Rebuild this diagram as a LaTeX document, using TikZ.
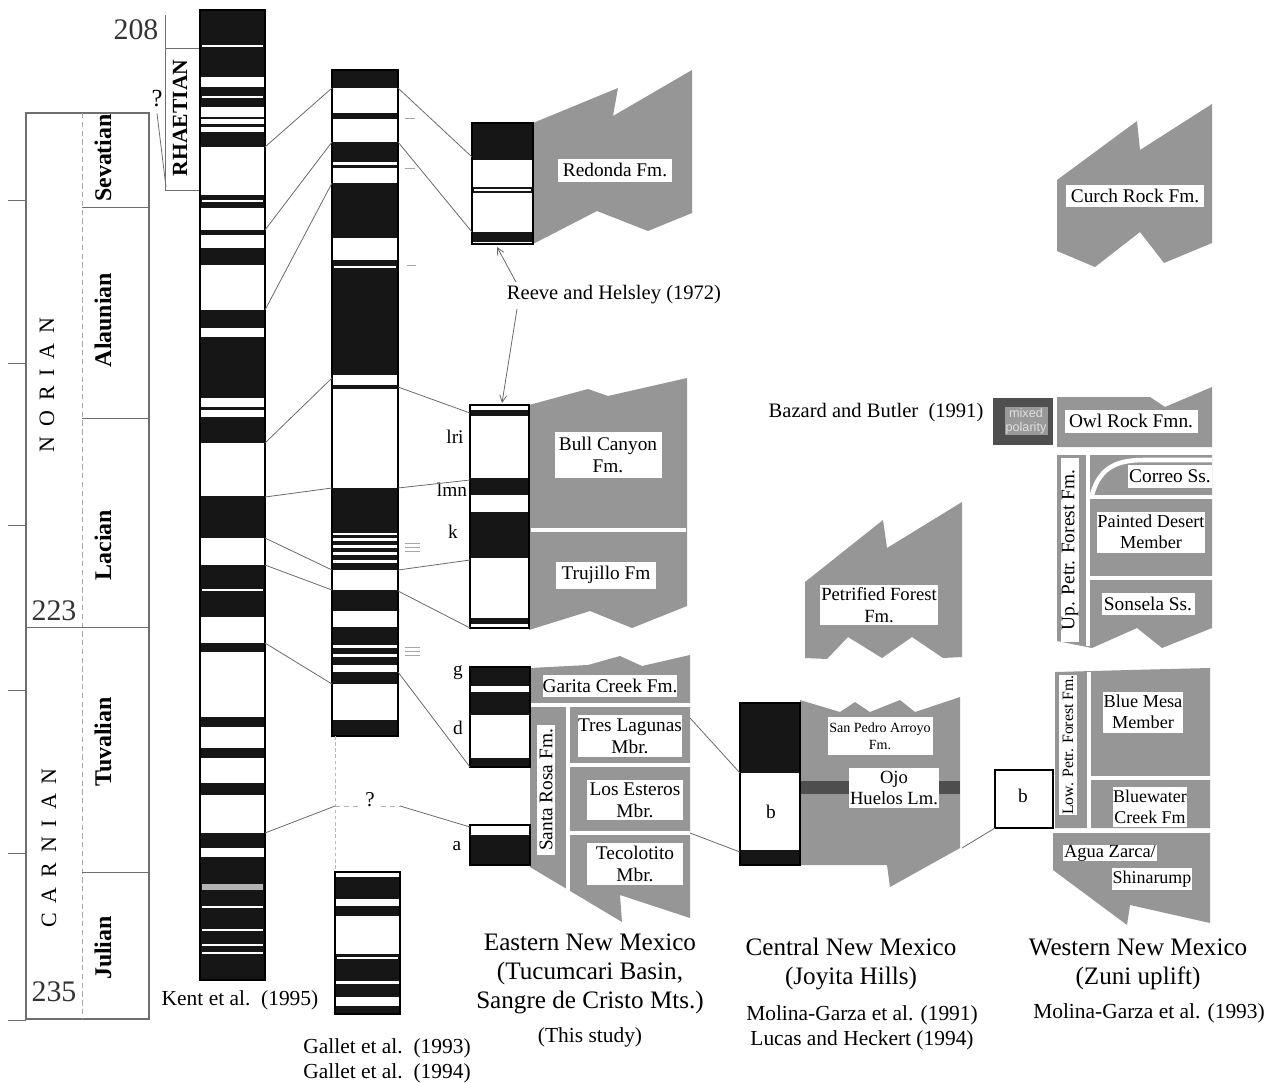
\documentclass[tikz,border=0pt]{standalone}
\usepackage{fontspec}
\setmainfont{Liberation Serif}
\newfontfamily\sansfam{Liberation Sans}
\usetikzlibrary{arrows.meta}
\definecolor{fmgray}{RGB}{150,150,150}
\definecolor{band}{RGB}{22,22,22}
\definecolor{connc}{RGB}{105,105,105}
\definecolor{ojoc}{RGB}{78,78,78}
\definecolor{scalec}{RGB}{110,110,110}
\newcommand\lsp{\hspace{0.45em}}
\begin{document}
\begin{tikzpicture}[x=0.02cm,y=-0.02cm,
  conn/.style={draw=connc,line width=0.45pt},
  fm/.style={fill=fmgray},
  wl/.style={draw=white,line width=2.6pt},
  lab/.style 2 args={fill=white,inner sep=0pt,minimum width=#1*0.02cm,minimum height=#2*0.02cm,align=center,font=\fontsize{11}{12.6}\selectfont},
  captxt/.style={font=\fontsize{14.3}{16.4}\selectfont,align=center},
  cite/.style={font=\fontsize{12.2}{14}\selectfont,align=center},
  stage/.style={rotate=90,font=\bfseries\fontsize{13.6}{15}\selectfont},
  era/.style={rotate=90,font=\fontsize{12.5}{14}\selectfont},
  agen/.style={font=\fontsize{17}{18}\selectfont,text=black!80},
  lettr/.style={font=\fontsize{11}{12}\selectfont},
  colb/.style={draw=black,line width=0.6pt,fill=white},
  bandw/.style={draw=white,line width=0.6pt},
  ]
\useasboundingbox (0,0) rectangle (1274,1082);
\fill[white] (0,0) rectangle (1274,1082);

% ---------------- time scale ----------------
\draw[scalec,line width=0.6pt] (26,113) rectangle (149,1019);
\draw[scalec!60,line width=0.4pt,dash pattern=on 3pt off 2pt] (82,113) -- (82,1019);
\draw[scalec,line width=0.5pt] (82,207) -- (149,207) (82,418) -- (149,418) (26,627) -- (149,627) (82,872) -- (149,872);
\foreach \y in {200,363,525,690,853,1020} \draw[scalec,line width=0.5pt] (8,\y) -- (26,\y);
\node[stage] (sev) at (103,158) {Sevatian};
\node[stage] (ala) at (103,320) {Alaunian};
\node[stage] (lac) at (103,545) {Lacian};
\node[stage] (tuv) at (103,742) {Tuvalian};
\node[stage] (jul) at (103,948) {Julian};
\node[era] (nor) at (47,385) {N\lsp O\lsp R\lsp I\lsp A\lsp N};
\node[era] (car) at (49,848) {C\lsp A\lsp R\lsp N\lsp I\lsp A\lsp N};
\node[agen] (a208) at (136,30) {208};
\node[agen] (a223) at (54,611) {223};
\node[agen] (a235) at (54,992) {235};
\draw[scalec,line width=0.5pt] (165,15) -- (165,190) -- (200,190) (165,48) -- (200,48);
\node[rotate=90,font=\bfseries\fontsize{12.3}{14}\selectfont] (rhaet) at (180,118) {RHAETIAN};
\node[font=\fontsize{14}{15}\selectfont] (q1) at (157,99) {?};
\coordinate (q1end) at (166,187);
\draw[scalec,line width=0.45pt] (q1.south) -- (q1end);

% ---------------- Kent column ----------------
\draw[colb] (200,10) rectangle (265,980);
\foreach \a/\b in {10/77,87/107,117/119,124/127,132/147,195/208,230/235,248/265,310/328,337/398,407/410,417/443,496/538,565/617,643/652,717/727,748/758,783/795,833/848,857/980}
  \fill[band] (200,\a) rectangle (265,\b);
\foreach \y in {46,97,201,590,907,930,945,953} \draw[bandw] (202,\y) -- (263,\y);
\fill[gray!60] (202,884) rectangle (263,890);
\draw[black,line width=0.6pt] (200,10) rectangle (265,980);
\node[cite] (kent) at (240,1000) {Kent et al.\ \ (1995)};

% ---------------- Gallet column ----------------
\draw[colb] (332,70) rectangle (398,736);
\foreach \a/\b in {70/88,113/119,142/162,165/168,183/238,260/375,385/389,488/533,535/538,541/545,548/552,555/560,563/570,590/611,627/645,648/654,657/665,672/684,720/736}
  \fill[band] (332,\a) rectangle (398,\b);
\draw[bandw] (334,267) -- (396,267);
\draw[black,line width=0.6pt] (332,70) rectangle (398,736);
\draw[gray!55,line width=0.4pt,dash pattern=on 2pt off 1.5pt] (335,736) -- (335,872);
\node[font=\fontsize{12}{13}\selectfont] (gq) at (370,800) {?};
\draw[gray!60,line width=0.4pt,dash pattern=on 3pt off 2pt] (335,806) -- (360,806) (381,806) -- (400,806);
\draw[colb] (335,872) rectangle (400,1014);
\foreach \a/\b in {877/899,906/916,954/981,984/997,1006/1014}
  \fill[band] (335,\a) rectangle (400,\b);
\draw[bandw] (337,958) -- (398,958);
\draw[black,line width=0.6pt] (335,872) rectangle (400,1014);
\draw[gray!70,line width=0.4pt] (405,118) -- (415,118) (405,168) -- (415,168) (407,265) -- (416,265);
\foreach \y in {543,547,551,647,651,655} \draw[gray!70,line width=0.4pt] (405,\y) -- (420,\y);
\node[cite] (gallet) at (387,1061) {Gallet et al.\ \ (1993)\\Gallet et al.\ \ (1994)};

% Kent -> Gallet connectors
\foreach \i/\ya/\yb in {1/147/88,2/230/142,3/310/183,4/443/378,5/497/488,6/538/570,7/565/590,8/643/684}{
  \coordinate (k\i) at (265,\ya); \coordinate (g\i) at (332,\yb);
  \draw[conn] (k\i) -- (g\i);}
\coordinate (k9) at (265,833); \coordinate (g9) at (335,806);
\draw[conn] (k9) -- (g9);

% ---------------- Eastern New Mexico ----------------
% Redonda
\fill[fm] (533,123) -- (618,88) -- (613,116) -- (692,70) -- (692,213) -- (648,231) -- (597,211) -- (533,244) -- cycle;
\node[lab={114}{23}] (redonda) at (615,170) {Redonda Fm.};
% Bull Canyon / Trujillo
\fill[fm] (529,405) -- (588,389) -- (608,396) -- (687,378) -- (687,606) -- (632,628) -- (590,611) -- (529,630) -- cycle;
\draw[wl] (531,530) -- (686,530);
\node[lab={107}{46}] (bull) at (608,455) {Bull Canyon\\Fm.};
\node[lab={100}{27}] (truj) at (606,575) {Trujillo Fm};
% lower Eastern
\fill[fm] (530,668) -- (588,665) -- (620,656) -- (642,666) -- (690,655) -- (690,918) -- (620,895) -- (622,922) -- (530,867) -- cycle;
\draw[wl] (530,705) -- (691,705);
\draw[wl] (568,705) -- (568,893);
\draw[wl] (568,765) -- (691,765);
\draw[wl] (568,833) -- (691,833);
\node[lab={126}{22}] (garita) at (610,686) {Garita Creek Fm.};
\node[lab={130}{18},rotate=90,font=\fontsize{11}{12}\selectfont] (srosa) at (546,790) {Santa Rosa Fm.};
\node[lab={104}{42}] (tres) at (630,736) {Tres Lagunas\\Mbr.};
\node[lab={96}{40}] (este) at (635,800) {Los Esteros\\Mbr.};
\node[lab={96}{42}] (teco) at (635,864) {Tecolotito\\Mbr.};
% Eastern polarity columns
\draw[colb] (472,123) rectangle (533,244);
\foreach \a/\b in {123/160,187/193,232/242} \fill[band] (472,\a) rectangle (533,\b);
\draw[bandw] (474,190) -- (531,190);
\draw[black,line width=0.6pt] (472,123) rectangle (533,244);
\draw[colb] (470,405) rectangle (529,628);
\foreach \a/\b in {410/416,478/495,512/558,618/624} \fill[band] (470,\a) rectangle (529,\b);
\draw[black,line width=0.6pt] (470,405) rectangle (529,628);
\draw[colb] (470,667) rectangle (530,767);
\foreach \a/\b in {667/686,692/715,758/767} \fill[band] (470,\a) rectangle (530,\b);
\draw[black,line width=0.6pt] (470,667) rectangle (530,767);
\draw[colb] (470,825) rectangle (530,865);
\fill[band] (470,835) rectangle (530,865);
\draw[black,line width=0.6pt] (470,825) rectangle (530,865);
\node[lettr] (llri) at (455,437) {lri};
\node[lettr] (llmn) at (452,490) {lmn};
\node[lettr] (lk) at (453,532) {k};
\node[lettr] (lg) at (458,673) {g};
\node[lettr] (ld) at (458,728) {d};
\node[lettr] (la) at (457,846) {a};
% Reeve and Helsley
\node[cite,font=\fontsize{11.7}{13}\selectfont] (reeve) at (614,295) {Reeve and Helsley (1972)};
\coordinate (rhA) at (516,282); \coordinate (redB) at (497,247);
\coordinate (rhB) at (517,309); \coordinate (bullT) at (502,403);
\draw[conn,-{Straight Barb[length=4pt,width=4pt]}] (rhA) -- (redB);
\draw[conn,-{Straight Barb[length=4pt,width=4pt]}] (rhB) -- (bullT);
\node[captxt] (eastcap) at (590,974) {Eastern New Mexico\\(Tucumcari Basin,\\Sangre de Cristo Mts.)};
\node[cite] (thisst) at (590,1037) {(This study)};

% Gallet -> Eastern connectors
\foreach \i/\ya/\xb/\yb in {1/88/472/157,2/142/472/232,3/387/470/413,4/488/470/480,5/570/470/560,6/591/470/628,7/672/470/767}{
  \coordinate (gr\i) at (398,\ya); \coordinate (e\i) at (\xb,\yb);
  \draw[conn] (gr\i) -- (e\i);}
\coordinate (gr8) at (400,806); \coordinate (e8) at (470,827);
\draw[conn] (gr8) -- (e8);

% ---------------- Central New Mexico ----------------
\node[cite,font=\fontsize{11.7}{13}\selectfont] (bazard) at (876,413) {Bazard and Butler\ \ (1991)};
\fill[fm] (805,582) -- (883,520) -- (887,548) -- (962,502) -- (962,657) -- (943,658) -- (912,637) -- (882,658) -- (848,637) -- (827,659) -- (805,658) -- cycle;
\node[lab={118}{40},font=\fontsize{10.6}{12.6}\selectfont] (pff) at (879,605) {Petrified Forest\\Fm.};
\fill[fm] (800,700) -- (840,712) -- (855,702) -- (870,712) -- (900,700) -- (915,712) -- (960,697) -- (960,848) -- (890,887) -- (887,865) -- (800,865) -- cycle;
\fill[ojoc] (800,781) rectangle (960,794);
\node[lab={105}{38},font=\fontsize{8}{9.5}\selectfont] (spa) at (880,736) {San Pedro Arroyo\\Fm.};
\node[lab={90}{40},font=\fontsize{10.6}{12.4}\selectfont] (ojo) at (894,788) {Ojo\\Huelos Lm.};
\draw[colb] (740,703) rectangle (800,865);
\fill[band] (740,703) rectangle (800,773);
\fill[band] (740,850) rectangle (800,865);
\draw[black,line width=0.6pt] (740,703) rectangle (800,865);
\node[lettr] (cb) at (771,812) {b};
\coordinate (eR1) at (690,718); \coordinate (c1) at (740,773);
\coordinate (eR2) at (690,833); \coordinate (c2) at (740,852);
\draw[conn] (eR1) -- (c1);
\draw[conn] (eR2) -- (c2);
\node[captxt] (centcap) at (851,964) {Central New Mexico\\(Joyita Hills)};
\node[cite] (centcit) at (862,1028) {Molina-Garza et al. (1991)\\Lucas and Heckert (1994)};

% ---------------- Western New Mexico ----------------
\fill[fm] (1057,180) -- (1137,121) -- (1140,150) -- (1212,104) -- (1212,243) -- (1164,263) -- (1140,232) -- (1095,267) -- (1057,251) -- cycle;
\node[lab={138}{22}] (curch) at (1135,196) {Curch Rock Fm.};
\fill[gray!62!black] (993,398) rectangle (1053,445);
\fill[gray!80] (1005,407) rectangle (1048,435);
\node[font=\sansfam\fontsize{7.2}{8}\selectfont,text=white!88!black,align=center] (mixed) at (1026,421) {mixed\\polarity};
\fill[fm] (1057,397) -- (1150,397) -- (1165,407) -- (1212,387) -- (1212,447) -- (1057,447) -- cycle;
\node[lab={133}{23}] (owl) at (1131,421) {Owl Rock Fmn.};
\fill[fm] (1057,455) -- (1212,455) -- (1212,628) -- (1162,648) -- (1137,628) -- (1092,648) -- (1057,641) -- cycle;
\draw[wl] (1088,455) -- (1088,646);
\draw[wl] (1092,495) .. controls (1100,465) and (1120,460) .. (1145,460) -- (1212,460);
\draw[wl] (1090,497) -- (1213,497);
\draw[wl] (1090,578) -- (1213,578);
\node[lab={184}{18},rotate=90,font=\fontsize{11}{12}\selectfont] (upt) at (1070,550) {Up. Petr. Forest Fm.};
\node[lab={84}{23}] (correo) at (1170,476) {Correo Ss.};
\node[lab={107}{41},font=\fontsize{10.4}{12}\selectfont] (painted) at (1151,532) {Painted Desert\\Member};
\node[lab={93}{22}] (sonsela) at (1148,604) {Sonsela Ss.};
\fill[fm] (1055,672) -- (1130,670) -- (1210,668) -- (1210,828) -- (1055,828) -- cycle;
\draw[wl] (1089,672) -- (1089,828);
\draw[wl] (1091,778) -- (1211,778);
\node[lab={140}{18},rotate=90,font=\fontsize{9}{10}\selectfont] (lowt) at (1068,745) {Low. Petr. Forest Fm.};
\node[lab={80}{41},font=\fontsize{10.4}{12}\selectfont] (bluemesa) at (1143,712) {Blue Mesa\\Member};
\node[lab={74}{40},font=\fontsize{10.2}{12}\selectfont] (bluew) at (1150,807) {Bluewater\\Creek Fm};
\fill[fm] (1053,833) -- (1210,833) -- (1210,923) -- (1130,905) -- (1127,925) -- (1053,870) -- cycle;
\node[lab={94}{15},font=\fontsize{10.5}{12}\selectfont] (agua) at (1110,853) {Agua Zarca/};
\node[lab={80}{22},font=\fontsize{10.2}{12}\selectfont] (shin) at (1152,879) {Shinarump};
\draw[black,line width=0.6pt,fill=white] (995,770) rectangle (1053,828);
\node[lettr] (wb) at (1023,796) {b};
\coordinate (cR) at (962,848); \coordinate (wbl) at (995,828);
\draw[conn] (cR) -- (wbl);
\node[captxt] (westcap) at (1138,964) {Western New Mexico\\(Zuni uplift)};
\node[cite] (westcit) at (1149,1013) {Molina-Garza et al. (1993)};
\end{tikzpicture}
\end{document}
